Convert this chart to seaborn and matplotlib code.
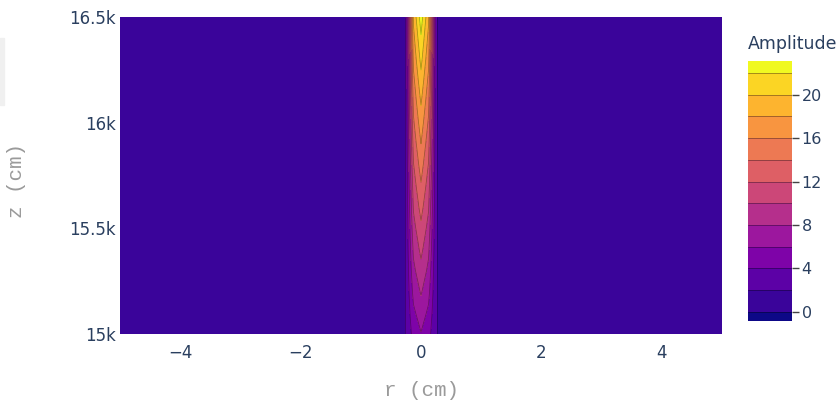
import numpy as np
import matplotlib
matplotlib.use("Agg")
import matplotlib.pyplot as plt
from matplotlib.patches import Rectangle
import seaborn as sns

# ---------------- data ----------------
z_samples = [15000, 15100, 15200, 15300, 15400, 15500, 15600, 15700,
             15800, 15900, 16000, 16100, 16200, 16300, 16400, 16500]
# amplitude on the axis r = 0
center_amp = [5.9, 7.0, 8.2, 9.4, 10.5, 11.6, 12.7, 13.8,
              14.9, 16.0, 17.1, 18.2, 19.4, 20.6, 21.8, 23.0]
# amplitude at |r| = 0.125 cm
inner_amp = [4.7, 5.6, 6.6, 7.5, 8.4, 9.3, 10.2, 11.0,
             11.9, 12.8, 13.7, 14.6, 15.5, 16.5, 17.4, 18.4]
# amplitude at |r| = 0.25 cm
edge_amp = [2.2, 2.2, 2.2, 2.2, 2.2, 2.2, 2.2, 2.2,
            2.2, 2.2, 2.2, 2.2, 2.2, 2.2, 2.2, 2.2]
r_step = 0.125
r_min, r_max = -5.0, 5.0
level_min, level_max, level_step = -2, 24, 2
cbar_range = (-0.85, 23.1)
cbar_ticks = [0, 4, 8, 12, 16, 20]
x_ticks = [-4, -2, 0, 2, 4]
y_ticks = [15000, 15500, 16000, 16500]
y_tick_labels = ["15k", "15.5k", "16k", "16.5k"]

# ---------------- style ----------------
sns.set_theme(style="white")
plt.rcParams['font.family'] = ['DejaVu Sans']
TXT = '#2a3f5f'

r = np.arange(r_min, r_max + r_step / 2, r_step)
field = np.zeros((len(z_samples), len(r)))
ic = int(np.argmin(np.abs(r)))
field[:, ic] = center_amp
field[:, ic - 1] = inner_amp
field[:, ic + 1] = inner_amp
field[:, ic - 2] = edge_amp
field[:, ic + 2] = edge_amp

levels = np.arange(level_min, level_max + level_step, level_step) - 1e-6
n_bands = len(levels) - 1
cmap = sns.color_palette("plasma", as_cmap=True)
band_colors = [cmap(i / (n_bands - 1)) for i in range(n_bands)]

fig = plt.figure(figsize=(8.4, 4.03), dpi=100)
fig.patches.append(Rectangle((0, 1 - 105 / 403), 4 / 840, 67 / 403,
                             transform=fig.transFigure, color='#f0f0f0', zorder=0))

ax = fig.add_axes([120 / 840, 69 / 403, 602 / 840, 317 / 403])
cf = ax.contourf(r, z_samples, field, levels=levels, colors=band_colors)
ax.contour(r, z_samples, field, levels=levels[1:], colors='black',
           linewidths=0.55, alpha=0.35)
ax.set_xlim(r_min, r_max)
ax.set_ylim(z_samples[0], z_samples[-1])
ax.set_xticks(x_ticks)
ax.set_yticks(y_ticks)
ax.set_yticklabels(y_tick_labels)
ax.tick_params(axis='both', length=0, labelsize=12, labelcolor=TXT)
ax.tick_params(axis='x', pad=7)
ax.tick_params(axis='y', pad=3)
for s in ax.spines.values():
    s.set_visible(False)
ax.grid(False)

fig.text(421 / 840, 1 - 390 / 403, "r (cm)", ha='center', va='center',
         fontsize=15, color='#9a9a9a', family=['Liberation Mono', 'DejaVu Sans Mono'])
fig.text(17 / 840, 1 - 180 / 403, "z (cm)", ha='center', va='center', rotation=90,
         fontsize=15, color='#9a9a9a', family=['Liberation Mono', 'DejaVu Sans Mono'])

# colorbar
cax = fig.add_axes([748 / 840, (403 - 321) / 403, 44 / 840, 260 / 403])
cb = fig.colorbar(cf, cax=cax)
cax.set_ylim(*cbar_range)
cb.set_ticks(cbar_ticks)
cb.set_ticklabels([str(t) for t in cbar_ticks])
cb.outline.set_visible(False)
for lv in levels:
    if cbar_range[0] < lv < cbar_range[1]:
        cax.axhline(lv, color='black', lw=0.6, alpha=0.4)
cax.tick_params(axis='y', direction='out', length=5, width=1, color='#444444',
                labelcolor=TXT, labelsize=11.5, pad=2, right=True)
fig.text(748 / 840, 1 - 44 / 403, "Amplitude", ha='left', va='center',
         fontsize=12.5, color=TXT)

fig.savefig("out.png", dpi=100)
